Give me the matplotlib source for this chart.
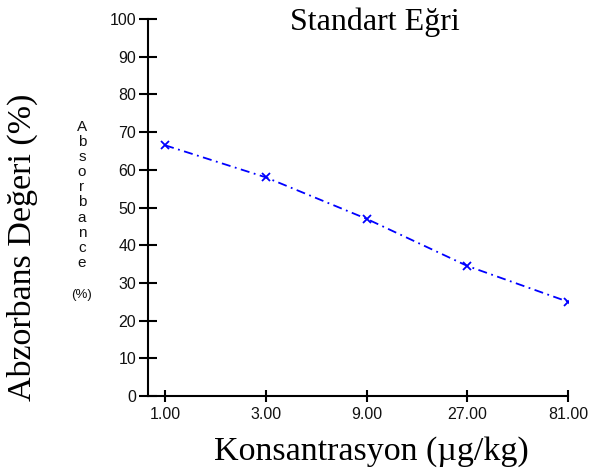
import numpy as np
import matplotlib
matplotlib.use('Agg')
import matplotlib.pyplot as plt

# 数据
konsantrasyon = ['1.00', '3.00', '9.00', '27.00', '81.00']
absorbans = [66.5, 58.0, 47.0, 34.5, 25.0]
y_ticks = list(range(0, 101, 10))

serif = ['Liberation Serif', 'DejaVu Serif']
sans = ['Liberation Sans', 'DejaVu Sans']
tick_color = '#111111'

fig = plt.figure(figsize=(5.93, 4.70), dpi=100)
ax = fig.add_axes([148 / 593, 1 - 396 / 470, 420 / 593, 377 / 470])

xpos = np.arange(len(konsantrasyon))
ax.plot(xpos, absorbans, color='#0000ff', linestyle=(0, (5, 2.5, 1, 2.5)), linewidth=1.3,
        marker='x', markersize=6, markeredgewidth=1.3)

ax.set_xlim(-0.17, 4.0)
ax.set_ylim(0, 100)
ax.set_xticks(xpos)  # 确定每个记号的位置
ax.set_xticklabels(konsantrasyon, family=sans, fontsize=11.5, color=tick_color)
ax.set_yticks(y_ticks)
ax.set_yticklabels([str(v) for v in y_ticks], family=sans, fontsize=11.5, color=tick_color)

for s in ['top', 'right']:
    ax.spines[s].set_visible(False)
for s in ['left', 'bottom']:
    ax.spines[s].set_linewidth(1.5)
ax.tick_params(axis='y', direction='inout', length=13, width=1.5, pad=2)
ax.tick_params(axis='x', direction='inout', length=8, width=1.5, pad=4)

# 标题和坐标轴标签
fig.text(375 / 593, 1 - 22 / 470, 'Standart Eğri', family=serif, fontsize=23,
         ha='center', va='center')
fig.text(371 / 593, 1 - 452 / 470, 'Konsantrasyon (µg/kg)', family=serif, fontsize=24.5,
         ha='center', va='center')
fig.text(22 / 593, 1 - 247 / 470, 'Abzorbans Değeri (%)', family=serif, fontsize=24.5,
         ha='center', va='center', rotation=90)

# 竖排小字
for i, ch in enumerate('Absorbance'):
    fig.text(82 / 593, 1 - (127 + 15.1 * i) / 470, ch, family=sans, fontsize=11,
             color=tick_color, ha='center', va='center')
fig.text(81 / 593, 1 - 295 / 470, '(%)', family=sans, fontsize=9.5,
         color=tick_color, ha='center', va='center')

plt.savefig('out.png', dpi=100)
